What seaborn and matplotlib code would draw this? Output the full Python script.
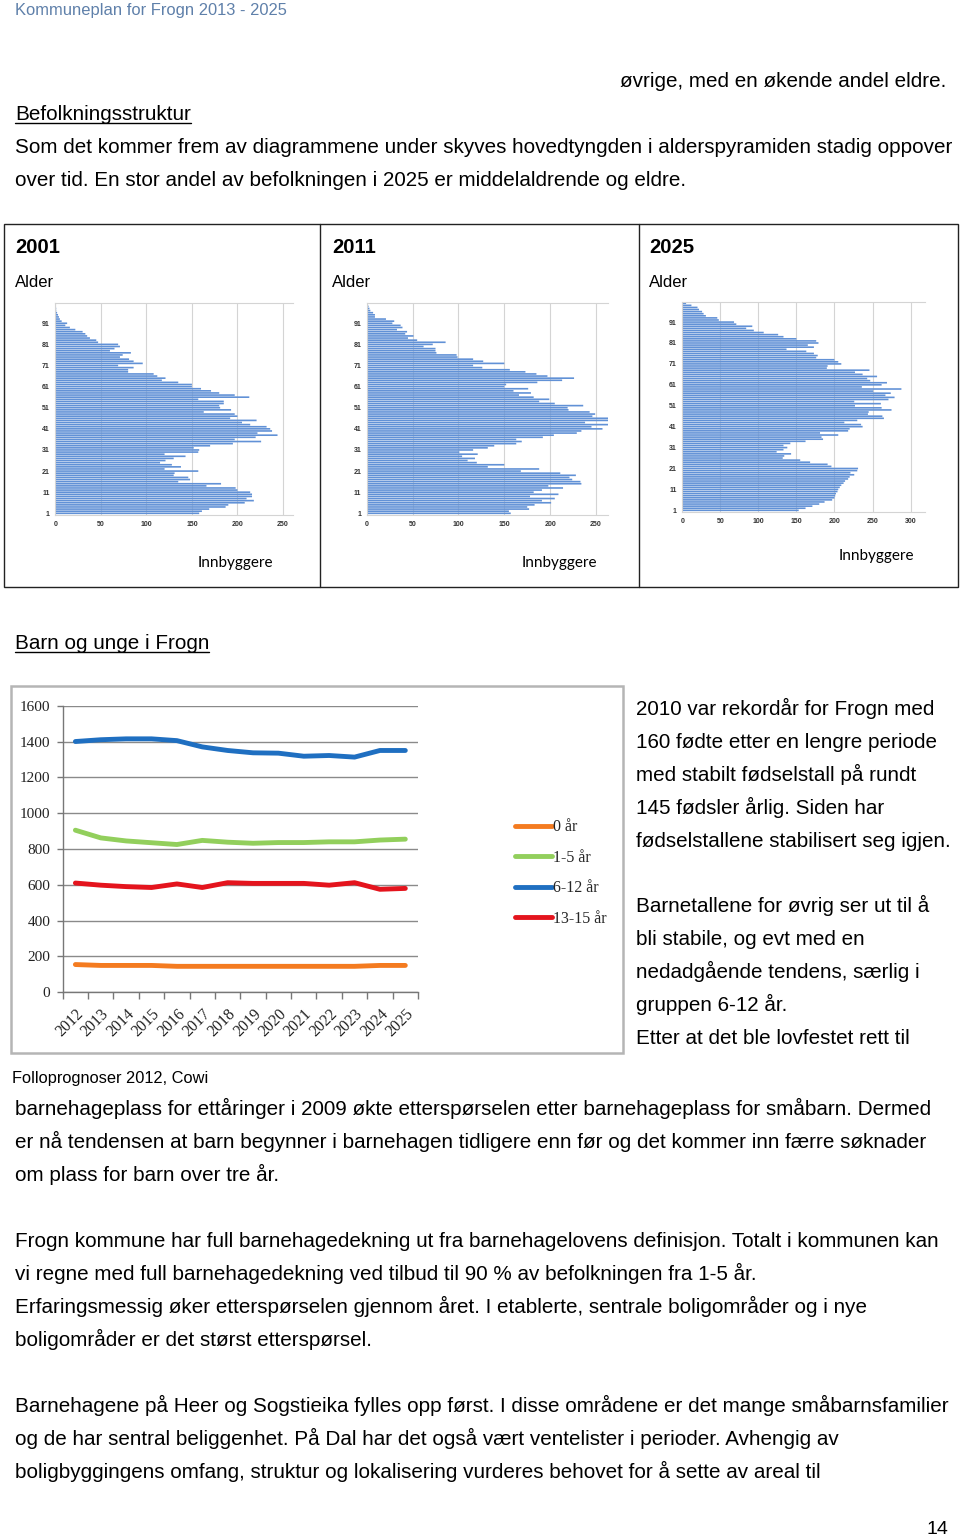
import numpy as np
import pandas as pd
import matplotlib
matplotlib.use("Agg")
import matplotlib.pyplot as plt
import seaborn as sns
from matplotlib.lines import Line2D
from matplotlib.patches import Rectangle

# ---------------- data ----------------
ages = list(range(1, 101))
pop_2001 = [158, 161, 169, 187, 190, 208, 218, 210, 216, 216,
            214, 200, 198, 166, 182, 135, 148, 146, 130, 131,
            157, 120, 138, 128, 115, 121, 130, 143, 120, 157,
            158, 152, 170, 195, 226, 197, 220, 244, 222, 238,
            236, 232, 214, 205, 221, 192, 200, 197, 163, 193,
            181, 180, 185, 185, 157, 213, 197, 180, 171, 160,
            150, 150, 135, 117, 121, 112, 108, 80, 80, 86,
            69, 96, 86, 81, 71, 74, 83, 60, 65, 71,
            69, 47, 45, 38, 35, 33, 30, 22, 16, 11,
            13, 7, 5, 4, 3, 2, 1, 1, 0.5, 0]
pop_2011 = [157, 155, 177, 175, 183, 201, 191, 205, 178, 209,
            182, 191, 214, 198, 234, 233, 224, 221, 228, 211,
            168, 188, 132, 150, 120, 110, 118, 104, 121, 101,
            116, 132, 139, 163, 169, 163, 192, 204, 229, 234,
            257, 245, 263, 238, 263, 263, 246, 249, 243, 220,
            219, 236, 205, 188, 199, 182, 166, 179, 160, 176,
            150, 152, 186, 213, 226, 197, 185, 173, 156, 126,
            116, 150, 127, 116, 99, 98, 76, 75, 75, 62,
            72, 86, 55, 45, 51, 42, 44, 33, 39, 37,
            28, 30, 21, 9, 9, 7, 4, 3, 2, 1]
pop_2025 = [153, 162, 171, 180, 187, 197, 200, 201, 202, 204,
            205, 207, 209, 212, 214, 218, 220, 226, 221, 230,
            231, 196, 191, 168, 155, 132, 134, 143, 124, 133,
            138, 133, 142, 162, 185, 183, 205, 181, 218, 220,
            237, 235, 213, 230, 265, 263, 244, 245, 275, 262,
            227, 261, 226, 271, 279, 267, 274, 251, 288, 236,
            262, 269, 247, 243, 256, 237, 227, 246, 190, 191,
            209, 205, 200, 176, 178, 173, 163, 137, 173, 165,
            179, 176, 150, 133, 126, 107, 94, 84, 92, 71,
            68, 48, 46, 31, 28, 26, 22, 20, 12, 5]
pyr_years = ["2001", "2011", "2025"]
pyr_xticks = [[0, 50, 100, 150, 200, 250], [0, 50, 100, 150, 200, 250],
              [0, 50, 100, 150, 200, 250, 300]]
age_ticks = [1, 11, 21, 31, 41, 51, 61, 71, 81, 91]

years = ["2012", "2013", "2014", "2015", "2016", "2017", "2018",
         "2019", "2020", "2021", "2022", "2023", "2024", "2025"]
ar_0 = [155, 150, 150, 150, 145, 145, 145, 145, 145, 145, 145, 145, 150, 150]
ar_1_5 = [905, 862, 845, 835, 825, 848, 838, 832, 836, 836, 840, 840, 850, 855]
ar_6_12 = [1400, 1410, 1415, 1415, 1405, 1370, 1350, 1337, 1335, 1318, 1322, 1313, 1350, 1350]
ar_13_15 = [610, 598, 590, 585, 605, 585, 612, 608, 608, 608, 598, 612, 575, 580]
groups = ["0 år", "1-5 år", "6-12 år", "13-15 år"]
group_colors = ["#f47b20", "#92cf5c", "#1f6fc1", "#e4141d"]
y_ticks = [0, 200, 400, 600, 800, 1000, 1200, 1400, 1600]

header = "Kommuneplan for Frogn 2013 - 2025"
para_top = ["Som det kommer frem av diagrammene under skyves hovedtyngden i alderspyramiden stadig oppover",
            "over tid. En stor andel av befolkningen i 2025 er middelaldrende og eldre."]
right_col = ["2010 var rekordår for Frogn med",
             "160 fødte etter en lengre periode",
             "med stabilt fødselstall på rundt",
             "145 fødsler årlig. Siden har",
             "fødselstallene stabilisert seg igjen.",
             "",
             "Barnetallene for øvrig ser ut til å",
             "bli stabile, og evt med en",
             "nedadgående tendens, særlig i",
             "gruppen 6-12 år.",
             "Etter at det ble lovfestet rett til"]
para_bottom = ["barnehageplass for ettåringer i 2009 økte etterspørselen etter barnehageplass for småbarn. Dermed",
               "er nå tendensen at barn begynner i barnehagen tidligere enn før og det kommer inn færre søknader",
               "om plass for barn over tre år.",
               "",
               "Frogn kommune har full barnehagedekning ut fra barnehagelovens definisjon. Totalt i kommunen kan",
               "vi regne med full barnehagedekning ved tilbud til 90 % av befolkningen fra 1-5 år.",
               "Erfaringsmessig øker etterspørselen gjennom året. I etablerte, sentrale boligområder og i nye",
               "boligområder er det størst etterspørsel.",
               "",
               "Barnehagene på Heer og Sogstieika fylles opp først. I disse områdene er det mange småbarnsfamilier",
               "og de har sentral beliggenhet. På Dal har det også vært ventelister i perioder. Avhengig av",
               "boligbyggingens omfang, struktur og lokalisering vurderes behovet for å sette av areal til"]

# ---------------- figure ----------------
sns.set_theme(style="white")
plt.rcParams["font.family"] = ["Liberation Sans", "DejaVu Sans"]

W, H = 960, 1537
fig = plt.figure(figsize=(W / 100, H / 100), dpi=100)
fig.patch.set_facecolor("white")


def fx(x):
    return x / W


def fy(y):
    return 1 - y / H


def add_ax(l, t, r, b):
    return fig.add_axes([l / W, 1 - b / H, (r - l) / W, (b - t) / H])


BODY = 14.85
renderer = fig.canvas.get_renderer()


def body(x, y, s, size=BODY, color="black", ha="left", weight="normal", family=None):
    kw = {}
    if family:
        kw["family"] = family
    return fig.text(fx(x), fy(y), s, fontsize=size, color=color, ha=ha,
                    va="baseline", weight=weight, **kw)


def underline(t, y):
    bb = t.get_window_extent(renderer)
    fig.add_artist(Line2D([bb.x0 / W, bb.x1 / W], [fy(y), fy(y)],
                          transform=fig.transFigure, color="black", lw=1.0))


# header and top text
body(15, 15, header, size=11.9, color="#5f80aa")
body(620, 87, "øvrige, med en økende andel eldre.")
t = body(15, 120, "Befolkningsstruktur")
underline(t, 123)
for i, line in enumerate(para_top):
    body(15, 153 + 33 * i, line)

# pyramid box
fig.add_artist(Rectangle((fx(4), fy(587)), (958 - 4) / W, (587 - 224) / H,
                         transform=fig.transFigure, fill=False, ec="#222222", lw=1.0))
for xd in [320, 639]:
    fig.add_artist(Line2D([fx(xd), fx(xd)], [fy(224), fy(587)],
                          transform=fig.transFigure, color="#222222", lw=1.0))

pyr_data = [pop_2001, pop_2011, pop_2025]
pyr_boxes = [(55.3, 303, 293, 515, 261), (366.7, 303, 608, 515, 263), (682.3, 302, 925, 512, 319)]
panel_x = [15, 332, 649]
innb = [(235, 567), (559, 567), (876, 560)]
for k in range(3):
    l, tp, r, b, xmax = pyr_boxes[k]
    ax = add_ax(l, tp, r, b)
    df = pd.DataFrame({"age": ages, "n": pyr_data[k]})
    sns.barplot(data=df, x="n", y="age", orient="h", native_scale=True,
                color="#6191d6", width=0.78, saturation=1, ax=ax, linewidth=0)
    for p in ax.patches:
        p.set_snap(False)
    ax.set_ylim(0.2, 100.6)
    ax.set_xlim(0, xmax)
    ax.set_xticks(pyr_xticks[k])
    ax.set_yticks(age_ticks)
    ax.set_xticklabels([str(v) for v in pyr_xticks[k]])
    ax.set_yticklabels([str(v) for v in age_ticks])
    ax.tick_params(axis="both", labelsize=5, length=0, pad=4, colors="#333333")
    for lab in ax.get_xticklabels() + ax.get_yticklabels():
        lab.set_fontweight("bold")
    ax.xaxis.grid(True, color="#d4d4d4", lw=0.8)
    ax.yaxis.grid(False)
    ax.set_axisbelow(True)
    ax.set_xlabel("")
    ax.set_ylabel("")
    for s in ["top", "bottom", "left"]:
        ax.spines[s].set_color("#d4d4d4")
        ax.spines[s].set_linewidth(0.8)
    ax.spines["right"].set_visible(False)
    ax.set_facecolor("white")
    body(panel_x[k], 253, pyr_years[k], size=14.6, weight="bold")
    body(panel_x[k], 287, "Alder", size=12)
    body(innb[k][0], innb[k][1], "Innbyggere", size=11, ha="center", family=["Lato", "DejaVu Sans"])

# Barn og unge heading
t = body(15, 649, "Barn og unge i Frogn")
underline(t, 652)

# line chart frame
fig.add_artist(Rectangle((fx(11), fy(1053)), (623 - 11) / W, (1053 - 686) / H,
                         transform=fig.transFigure, fill=False, ec="#b5b5b5", lw=1.8))

ax = add_ax(62.7, 705.7, 418, 992.3)
xi = list(range(len(years)))
long = pd.DataFrame({
    "x": xi * 4,
    "v": ar_0 + ar_1_5 + ar_6_12 + ar_13_15,
    "g": [groups[0]] * 14 + [groups[1]] * 14 + [groups[2]] * 14 + [groups[3]] * 14,
})
sns.lineplot(data=long, x="x", y="v", hue="g", hue_order=groups,
             palette=dict(zip(groups, group_colors)), linewidth=3.5,
             legend=False, ax=ax, solid_capstyle="round", solid_joinstyle="round")
ax.set_xlim(-0.5, 13.5)
ax.set_ylim(0, 1600)
ax.set_yticks(y_ticks)
ax.set_yticklabels([str(v) for v in y_ticks], family=["Liberation Serif"], fontsize=11)
ax.set_xticks(xi)
ax.set_xticklabels(years, rotation=45, ha="right", va="top", rotation_mode="anchor",
                   family=["Liberation Serif"], fontsize=11.5)
ax.set_xticks(np.arange(-0.5, 14, 1), minor=True)
ax.tick_params(axis="x", which="major", length=0, pad=10, colors="#222222")
ax.tick_params(axis="x", which="minor", length=5, width=1, color="#777777", bottom=True)
ax.tick_params(axis="y", length=4, width=1, color="#777777", pad=5, left=True)
ax.tick_params(axis="y", labelcolor="#222222")
ax.yaxis.grid(True, color="#8a8a8a", lw=1.0)
ax.xaxis.grid(False)
for s in ["top", "right"]:
    ax.spines[s].set_visible(False)
for s in ["left", "bottom"]:
    ax.spines[s].set_color("#777777")
    ax.spines[s].set_linewidth(1.0)
ax.set_xlabel("")
ax.set_ylabel("")

handles = [Line2D([0], [0], color=c, lw=3.5, solid_capstyle="round") for c in group_colors]
fig.legend(handles, groups, loc="upper left", bbox_to_anchor=(fx(509), fy(813)),
           frameon=False, prop={"family": "Liberation Serif", "size": 11.5},
           handlelength=2.3, handletextpad=0.05, labelspacing=0.9, borderaxespad=0)

# right column text
for i, line in enumerate(right_col):
    if line:
        body(636, 715 + 32.9 * i, line)

body(12, 1083, "Folloprognoser 2012, Cowi", size=11.8)

for i, line in enumerate(para_bottom):
    if line:
        body(15, 1115 + 33 * i, line)

body(948, 1534, "14", size=14, ha="right")

fig.savefig("out.png", dpi=100, facecolor="white")
